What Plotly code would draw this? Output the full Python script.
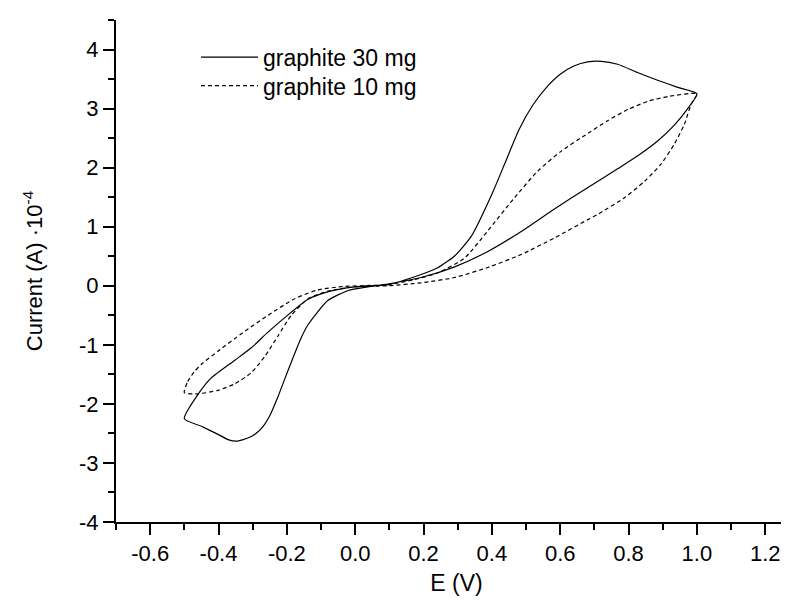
import plotly.graph_objects as go

# graphite 30 mg: forward scan (-0.5 -> 1.0) then reverse (1.0 -> -0.5)
e_30mg = [-0.5, -0.459, -0.421, -0.352, -0.304, -0.256, -0.206, -0.138, -0.079, -0.021, 0.037,
          0.096, 0.193, 0.24, 0.29, 0.34, 0.40, 0.44, 0.48, 0.52, 0.56, 0.60, 0.64, 0.68,
          0.72, 0.768, 0.826, 0.885, 0.944, 1.0,
          0.973, 0.934, 0.885, 0.827, 0.768, 0.68, 0.583, 0.486, 0.388, 0.291, 0.193,
          0.096, 0.037, -0.02, -0.08, -0.138, -0.158, -0.205, -0.226, -0.25, -0.275, -0.30,
          -0.33, -0.345, -0.37, -0.40, -0.45, -0.5]
i_30mg = [-2.25, -1.83, -1.56, -1.26, -1.05, -0.79, -0.54, -0.23, -0.10, -0.03, 0.0,
          0.02, 0.19, 0.30, 0.50, 0.84, 1.55, 2.10, 2.65, 3.06, 3.36, 3.58, 3.72, 3.79,
          3.80, 3.75, 3.61, 3.48, 3.36, 3.25,
          3.00, 2.72, 2.45, 2.20, 1.98, 1.66, 1.30, 0.92, 0.58, 0.32, 0.14,
          0.03, -0.02, -0.08, -0.25, -0.66, -0.88, -1.56, -1.88, -2.20, -2.42, -2.54,
          -2.61, -2.63, -2.61, -2.52, -2.38, -2.25]

# graphite 10 mg
e_10mg = [-0.5, -0.49, -0.47, -0.45, -0.40, -0.33, -0.255, -0.177, -0.109, -0.031, 0.02,
          0.096, 0.17, 0.242, 0.320, 0.388, 0.466, 0.534, 0.603, 0.681, 0.74, 0.80, 0.86,
          0.92, 1.0,
          0.983, 0.963, 0.934, 0.895, 0.847, 0.788, 0.710, 0.681, 0.583, 0.486, 0.388, 0.291,
          0.193, 0.096, -0.002, -0.079, -0.138, -0.187, -0.226, -0.265, -0.304, -0.352,
          -0.401, -0.46, -0.5]
i_10mg = [-1.81, -1.62, -1.45, -1.33, -1.10, -0.80, -0.50, -0.22, -0.07, -0.01, 0.0,
          0.02, 0.10, 0.22, 0.47, 0.93, 1.49, 1.94, 2.28, 2.58, 2.80, 2.99, 3.13,
          3.21, 3.25,
          3.07, 2.73, 2.40, 2.06, 1.77, 1.49, 1.21, 1.12, 0.81, 0.53, 0.31, 0.14,
          0.05, 0.0, -0.02, -0.09, -0.22, -0.50, -0.85, -1.20, -1.47, -1.66,
          -1.77, -1.83, -1.81]

x_tickvals = [-0.6, -0.4, -0.2, 0.0, 0.2, 0.4, 0.6, 0.8, 1.0, 1.2]
x_ticktext = ["-0.6", "-0.4", "-0.2", "0.0", "0.2", "0.4", "0.6", "0.8", "1.0", "1.2"]
y_tickvals = [-4, -3, -2, -1, 0, 1, 2, 3, 4]
y_ticktext = ["-4", "-3", "-2", "-1", "0", "1", "2", "3", "4"]

FONT = "Arial, Liberation Sans, sans-serif"

fig = go.Figure()
fig.add_trace(go.Scatter(x=e_30mg, y=i_30mg, mode="lines", name="graphite 30 mg",
                         legend="legend",
                         line=dict(color="black", width=1.2, shape="spline", smoothing=0.6)))
fig.add_trace(go.Scatter(x=e_10mg, y=i_10mg, mode="lines", name="graphite 10 mg",
                         legend="legend2",
                         line=dict(color="black", width=1.2, dash="4px,3px", shape="spline",
                                   smoothing=0.6)))

axis_common = dict(showgrid=False, zeroline=False, showline=True, linecolor="black",
                   linewidth=2, ticks="outside", ticklen=11, tickwidth=1.5, tickcolor="black",
                   tickfont=dict(family=FONT, size=22, color="black"))

fig.update_xaxes(range=[-0.7, 1.293], tickmode="array", tickvals=x_tickvals,
                 ticktext=x_ticktext,
                 minor=dict(ticks="outside", ticklen=6, tickwidth=1.5, tickcolor="black",
                            dtick=0.1, tick0=-0.7),
                 title=dict(text="E (V)", font=dict(family=FONT, size=23, color="black"),
                            standoff=9),
                 **axis_common)
fig.update_yaxes(range=[-4, 4.5], tickmode="array", tickvals=y_tickvals,
                 ticktext=y_ticktext,
                 minor=dict(ticks="outside", ticklen=6, tickwidth=1.5, tickcolor="black",
                            dtick=0.5, tick0=-4),
                 title=dict(text="Current (A) \u00b710<sup>-4</sup>",
                            font=dict(family=FONT, size=22, color="black"), standoff=30),
                 **axis_common)

leg_common = dict(x=0.1175, xanchor="left", yanchor="middle", itemwidth=57,
                  bgcolor="rgba(0,0,0,0)", font=dict(family=FONT, size=23, color="black"))

fig.update_layout(
    width=789, height=601,
    margin=dict(l=108, r=0, t=12, b=87),
    plot_bgcolor="white", paper_bgcolor="white",
    showlegend=True,
    legend=dict(y=0.926, **leg_common),
    legend2=dict(y=0.869, **leg_common),
)

fig.write_html("out.html")
